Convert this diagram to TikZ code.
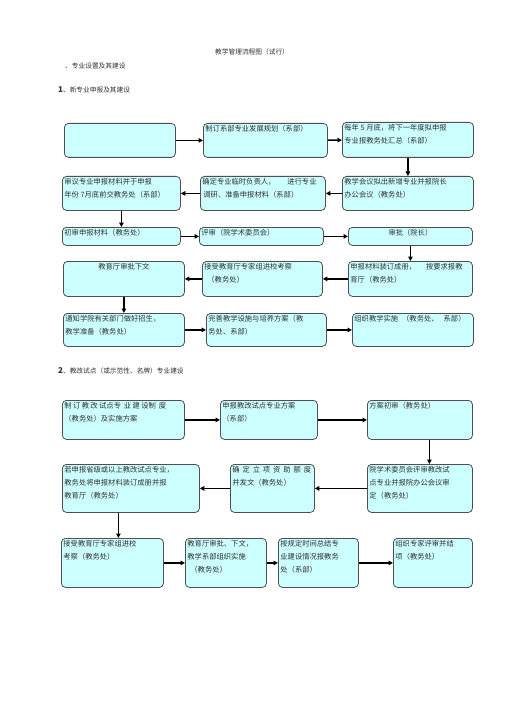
\documentclass[tikz,border=0pt]{standalone}
\usepackage{fontspec}
\setmainfont{Noto Sans CJK SC}
\usetikzlibrary{arrows.meta}
\definecolor{boxfill}{HTML}{CCFFFF}
\definecolor{boxline}{HTML}{505050}
\definecolor{txt}{HTML}{303030}
\newcommand\bx[6]{\node[box, anchor=north west, minimum width=#4pt, minimum height=#5pt] (#1) at (#2,#3) {\parbox[c][\dimexpr#5pt-4pt\relax][t]{\dimexpr#4pt-4pt\relax}{\raggedright\mbox{}#6}};}
\newcommand\gp{\hspace{1.4pt}}
\newcommand\gq{\hspace{2.9pt}}
\begin{document}
\begin{tikzpicture}[x=1pt,y=-1pt,
  box/.style={draw=boxline, fill=boxfill, rounded corners=4pt, line width=0.8pt, inner sep=2pt, text=txt, font=\fontsize{7.3}{13}\selectfont},
  hdr/.style={inner sep=0pt, text=txt, font=\fontsize{6.7}{8}\selectfont},
  arr/.style={line width=1.6pt, draw=black, -{Triangle[length=4.5pt,width=4.5pt]}}]
\useasboundingbox (0,0) rectangle (505,714);
% headers
\node[hdr, anchor=base west] (title) at (215,55) {教学管理流程图（试行）};
\node[hdr, anchor=base west] (s0) at (65,69) {、专业设置及其建设};
\node[hdr, anchor=base west] (s1) at (58,93) {{\fontsize{8}{8}\selectfont\textbf{1}}、新专业申报及其建设};
\node[hdr, anchor=base west] (s2) at (58,373) {{\fontsize{8}{8}\selectfont\textbf{2}}、教改试点（或示范性、名牌）专业建设};
% section 1
\bx{A}{64}{123}{111}{34}{}
\bx{B}{203}{123}{124}{34}{制订系部专业发展规划（系部）}
\bx{C}{342}{122}{131}{35}{每年 5 月底，将下一年度拟申报\\专业报教务处汇总（系部）}
\bx{D}{62}{176}{118}{34}{审议专业申报材料并于申报\\年份 7月底前交教务处（系部）}
\bx{E}{200}{176}{125}{34}{确定专业临时负责人，\hspace{12pt}进行专业\\\hspace{1pt}调研、准备申报材料（系部）}
\bx{F}{342}{176}{131}{34}{教学会议拟出新增专业并报院长\\办公会议（教务处）}
\bx{G}{62}{227}{118}{18}{初审申报材料（教务处）}
\bx{H}{199}{227}{124}{18}{评审（院学术委员会）}
\bx{I}{348}{227}{124}{18}{\centering 审批（院长）}
\bx{K}{63}{261}{121}{35}{\centering 教育厅审批下文}
\bx{L}{202}{261}{120}{35}{接受教育厅专家组进校考察\\\hspace{3pt}（教务处）}
\bx{J}{348}{261}{124}{35}{申报材料装订成册，\hspace{10pt}按要求报教\\育厅（教务处）}
\bx{M}{63}{313}{121}{33}{通知学院有关部门做好招生，\\教学准备（教务处）}
\bx{N}{206}{313}{120}{33}{完善教学设施与培养方案（教\\务处、系部）}
\bx{O}{352}{313}{121}{33}{组织教学实施\hspace{4pt}（教务处、\hspace{5pt}系部）}
% section 2
\bx{P}{62}{400}{122}{39}{制\gp 订\gp 教\gp 改\gp 试点专\gq 业\gp 建\gp 设制\gq 度\\（教务处）及实施方案}
\bx{Q}{220}{400}{97}{39}{申报教改试点专业方案\\（系部）}
\bx{R}{367}{400}{105}{39}{方案初审（教务处）}
\bx{T}{62}{464}{137}{48}{若申报省级或以上教改试点专业，\\教务处将申报材料装订成册并报\\教育厅（教务处）}
\bx{U}{230}{464}{84}{48}{确\gq 定\gq 立\gq 项\gq 资\gq 助\gq 额\gq 度\\并发文（教务处）}
\bx{S}{367}{464}{105}{48}{院学术委员会评审教改试\\点专业并报院办公会议审\\定（教务处）}
\bx{V}{61}{538}{102}{49}{接受教育厅专家组进校\\考察（教务处）}
\bx{W}{185}{538}{81}{49}{教育厅审批、下文，\\教学系部组织实施\\\hspace{3pt}（教务处）}
\bx{X}{278}{538}{80}{49}{按规定时间总结专\\业建设情况报教务\\处（系部）}
\bx{Y}{393}{538}{79}{49}{组织专家评审并结\\项（教务处）}
% arrows section 1
\draw[arr] (A) -- (B);
\draw[arr] (B) -- (C);
\draw[arr] (C) -- (F);
\draw[arr] (F) -- (E);
\draw[arr] (E) -- (D);
\draw[arr] (D) -- (G);
\draw[arr] (G) -- (H);
\draw[arr] (H) -- (I);
\draw[arr] (I) -- (J);
\draw[arr] (J) -- (L);
\draw[arr] (L) -- (K);
\draw[arr] (K) -- (M);
\draw[arr] (M) -- (N);
\draw[arr] (N) -- (O);
% arrows section 2
\draw[arr] (P) -- (Q);
\draw[arr] (Q) -- (R);
\draw[arr] ([xshift=9.5pt]R.south) -- ([xshift=9.5pt]S.north);
\draw[arr] (S) -- (U);
\draw[arr] (U) -- (T);
\draw[arr] ([xshift=-12.5pt]T.south) -- ([xshift=6pt]V.north);
\draw[arr] (V) -- (W);
\draw[arr] (W) -- (X);
\draw[arr] (X) -- (Y);
\end{tikzpicture}
\end{document}
